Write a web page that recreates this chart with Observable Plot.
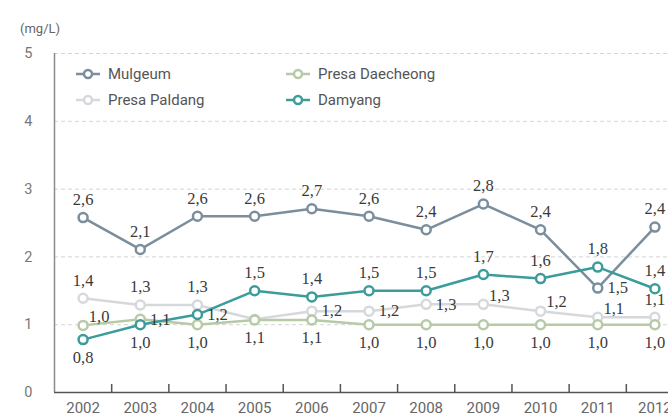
<!DOCTYPE html>
<html><head><meta charset="utf-8">
<script src="https://cdn.jsdelivr.net/npm/d3@7"></script>
<script src="https://cdn.jsdelivr.net/npm/@observablehq/plot@0.6"></script>
<style>
body{margin:0;background:#fff;}
#wrap{position:relative;width:668px;height:418px;overflow:hidden;font-family:Roboto,sans-serif;background:#fff;}
.unit{position:absolute;left:20px;top:21px;font-size:13px;color:#666;}
.leg{position:absolute;display:flex;align-items:center;font-size:15px;color:#555;line-height:1;white-space:nowrap;}
.leg svg{margin-right:5px;}
</style></head><body><div id="wrap"></div>
<script>
const years = [2002, 2003, 2004, 2005, 2006, 2007, 2008, 2009, 2010, 2011, 2012];
const yTicks = [0, 1, 2, 3, 4, 5];
const seriesNames = ["Mulgeum", "Presa Paldang", "Presa Daecheong", "Damyang"];
const seriesColors = ["#7b8e9c", "#d6d8db", "#b6caa6", "#3c9c9c"];

const mulgeum = [2.58, 2.11, 2.6, 2.6, 2.71, 2.6, 2.4, 2.78, 2.4, 1.54, 2.44];
const mulgeumLabels = ["2,6","2,1","2,6","2,6","2,7","2,6","2,4","2,8","2,4","1,5","2,4"];
const paldang = [1.39, 1.29, 1.29, 1.08, 1.2, 1.2, 1.3, 1.3, 1.2, 1.11, 1.11];
const paldangLabels = ["1,4","1,3","1,3",null,"1,2","1,2","1,3","1,3","1,2","1,1","1,1"];
const daecheong = [0.99, 1.08, 1.0, 1.07, 1.07, 1.0, 1.0, 1.0, 1.0, 1.0, 1.0];
const daecheongLabels = ["1,0","1,1","1,0","1,1","1,1","1,0","1,0","1,0","1,0","1,0","1,0"];
const damyang = [0.78, 1.0, 1.15, 1.5, 1.41, 1.5, 1.5, 1.74, 1.68, 1.85, 1.53];
const damyangLabels = ["0,8","1,0","1,2","1,5","1,4","1,5","1,5","1,7","1,6","1,8","1,4"];

// label placement relative to the point: t = above, b = below, r = right, tr = upper right
const mulgeumPlace = ["t","t","t","t","t","t","t","t","t","r","t"];
const paldangPlace = ["t","t","t",null,"r","r","r","tr","tr","tr","t"];
const daecheongPlace = ["tr","r","b","b","b","b","b","b","b","b","b"];
const damyangPlace = ["b","b","r","t","t","t","t","t","t","t","t"];

const placeOffsets = {t: [0, -18], b: [0, 18], r: [20, 0], tr: [16, -9]};

const build = (name, vals, labels, places) =>
  years.map((year, i) => ({series: name, year, value: vals[i], label: labels[i], place: places[i]}));

const tidy = [
  ...build("Presa Paldang", paldang, paldangLabels, paldangPlace),
  ...build("Presa Daecheong", daecheong, daecheongLabels, daecheongPlace),
  ...build("Mulgeum", mulgeum, mulgeumLabels, mulgeumPlace),
  ...build("Damyang", damyang, damyangLabels, damyangPlace)
];
const drawOrder = ["Presa Paldang", "Presa Daecheong", "Mulgeum", "Damyang"];
const boundaries = years.slice(0, -1).map(y => y + 0.5);

const seriesMarks = drawOrder.flatMap(name => {
  const d = tidy.filter(r => r.series === name);
  return [
    Plot.line(d, {x: "year", y: "value", stroke: "series", strokeWidth: 2.5}),
    Plot.dot(d, {x: "year", y: "value", stroke: "series", fill: "white", r: 4.5, strokeWidth: 2.5})
  ];
});

const labelMarks = Object.entries(placeOffsets).map(([p, [dx, dy]]) =>
  Plot.text(tidy.filter(r => r.place === p && r.label), {
    x: "year", y: "value", text: "label", dx, dy,
    fontFamily: "Liberation Serif", fontSize: 16.5, fill: "#3a3a3a",
    textAnchor: "middle", lineAnchor: "middle"
  })
);

const chart = Plot.plot({
  width: 668, height: 418,
  marginTop: 53, marginBottom: 26, marginLeft: 54, marginRight: 0,
  x: {domain: [2001.5, 2012.5], range: [54, 683], axis: null},
  y: {domain: [0, 5], axis: null},
  color: {domain: seriesNames, range: seriesColors},
  style: {fontFamily: "Roboto, sans-serif", background: "white", overflow: "hidden"},
  marks: [
    Plot.ruleY(yTicks.slice(1), {stroke: "#d4d4d4", strokeDasharray: "4,3"}),
    Plot.ruleX([2001.5], {y1: 0, y2: 5, stroke: "#8a8a8a", strokeWidth: 1.5}),
    Plot.ruleY([0], {stroke: "#555", strokeWidth: 1.5}),
    Plot.ruleX(boundaries, {x: d => d, y1: 0, y2: 0, insetBottom: 8, stroke: "#555", strokeWidth: 1.5}),
    Plot.axisX(years, {tickSize: 0, tickPadding: 10, fontSize: 15, fill: "#666", tickFormat: d => String(d), label: null}),
    Plot.axisY(yTicks, {tickSize: 0, tickPadding: 22, fontSize: 14.5, fill: "#777", tickFormat: d => String(d), label: null}),
    ...seriesMarks,
    ...labelMarks
  ]
});

const wrap = document.getElementById("wrap");
wrap.appendChild(chart);

const unit = document.createElement("div");
unit.className = "unit";
unit.textContent = "(mg/L)";
wrap.appendChild(unit);

const legendPos = {"Mulgeum": [76, 74], "Presa Paldang": [76, 100], "Presa Daecheong": [286, 74], "Damyang": [286, 100]};
seriesNames.forEach((name, i) => {
  const [lx, ly] = legendPos[name];
  const el = document.createElement("div");
  el.className = "leg";
  el.style.left = lx + "px";
  el.style.top = (ly - 9) + "px";
  el.style.height = "18px";
  const c = seriesColors[i];
  el.innerHTML = `<svg width="24" height="12"><line x1="0" y1="6" x2="24" y2="6" stroke="${c}" stroke-width="2.5"/><circle cx="12" cy="6" r="4" fill="white" stroke="${c}" stroke-width="2.5"/></svg><span style="margin-left:3px">${name}</span>`;
  wrap.appendChild(el);
});
</script>
</body></html>
